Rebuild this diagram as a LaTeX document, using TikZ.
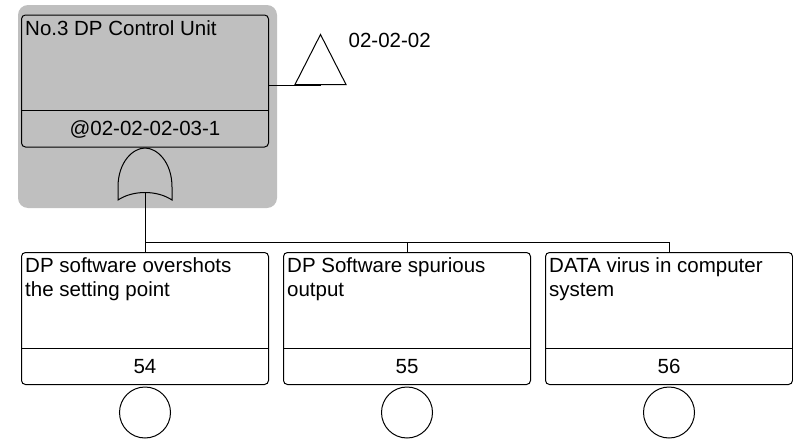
\documentclass[tikz,border=0pt]{standalone}
\usepackage{fontspec}
\setmainfont{Liberation Sans}
\usepackage{tikz}
\usetikzlibrary{shapes.geometric,positioning}

\tikzset{
  orgate/.pic={
    \draw[line width=1pt] (-27,-52) -- (-27,-39) .. controls (-27,-14) and (-12,0) .. (0,0)
      .. controls (12,0) and (27,-14) .. (27,-39) -- (27,-52)
      .. controls (12,-42) and (-12,-42) .. cycle;
    \coordinate (-in) at (0,-44);
  }
}

\begin{document}
\begin{tikzpicture}[
  x=1pt, y=1pt,
  box/.style={draw, rounded corners=4pt, minimum width=247pt, minimum height=132pt, inner sep=0pt, line width=1pt},
  txt/.style={anchor=north west, align=left, inner sep=0pt, font=\fontsize{20.5}{24}\selectfont},
  num/.style={inner sep=0pt, font=\fontsize{20.5}{24}\selectfont},
  basic/.style={draw, circle, minimum size=51pt, inner sep=0pt, line width=1pt},
  transfer/.style={draw, isosceles triangle, shape border rotate=90, isosceles triangle stretches,
    minimum width=51pt, minimum height=50pt, inner sep=0pt, line width=1pt},
  conn/.style={line width=1pt}
]
  \useasboundingbox (0,0) rectangle (793,-439);

  % top event on its grey frame
  \fill[black!25, rounded corners=10pt] (18,-5) rectangle (277,-208);
  \node[box] (top) at (145,-81) {};
  \draw[conn] ([yshift=37pt]top.south west) -- ([yshift=37pt]top.south east);
  \node[txt] at ([shift={(4pt,-5.5pt)}]top.north west) {No.3 DP Control Unit};
  \node[num] at ([yshift=18.5pt]top.south) {@02-02-02-03-1};

  % transfer
  \node[transfer, anchor=lower side] (tr) at (320.5,-85) {};
  \node[txt] (trl) at ([shift={(28pt,0pt)}]tr.apex) {02-02-02};
  \draw[conn] (top.east |- tr.lower side) -- (tr.lower side);

  % OR gate
  \pic (og) at (145,-148) {orgate};
  \coordinate[below=50pt of og-in] (bus);

  % basic events
  \foreach \id/\x/\txt in {54/145/{DP software overshots\\the setting point},
                           55/407/{DP Software spurious\\output},
                           56/669/{DATA virus in computer\\system}} {
    \node[box, fill=white] (e\id) at (\x,-318.5) {};
    \draw[conn] ([yshift=37pt]e\id.south west) -- ([yshift=37pt]e\id.south east);
    \node[txt] at ([shift={(4pt,-5.5pt)}]e\id.north west) {\txt};
    \node[num] at ([yshift=18.5pt]e\id.south) {\id};
    \node[basic, below=1.5pt of e\id] (b\id) {};
  }

  \draw[conn] (og-in) -- (e54.north);
  \draw[conn] (bus) -| (e55.north);
  \draw[conn] (bus) -| (e56.north);
\end{tikzpicture}
\end{document}
